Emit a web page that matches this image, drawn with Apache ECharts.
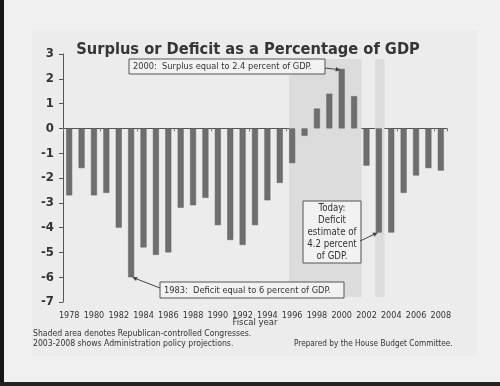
<!DOCTYPE html>
<html><head><meta charset="utf-8">
<script src="https://cdn.jsdelivr.net/npm/echarts@6/dist/echarts.min.js"></script>
<style>html,body{margin:0;padding:0;background:#f0f0f0}#c{width:500px;height:386px}</style>
</head><body><div id="c"></div>
<script>
// ---- data ----
const years = ['1978','1979','1980','1981','1982','1983','1984','1985','1986','1987','1988','1989','1990','1991','1992','1993','1994','1995','1996','1997','1998','1999','2000','2001','2002','2003','2004','2005','2006','2007','2008'];
const surplus = [-2.7,-1.6,-2.7,-2.6,-4.0,-6.0,-4.8,-5.1,-5.0,-3.2,-3.1,-2.8,-3.9,-4.5,-4.7,-3.9,-2.9,-2.2,-1.4,-0.3,0.8,1.4,2.4,1.3,-1.5,-4.2,-4.2,-2.6,-1.9,-1.6,-1.7];
const yTicks = [-7,-6,-5,-4,-3,-2,-1,0,1,2,3];
// shaded (Republican-controlled Congress) bands, in fiscal-year units
const shadeFrom = [1995.75, 2002.7];
const shadeTo = [2001.6, 2003.45];
const shadeTop = 2.8, shadeBottom = -6.8;
const titleText = 'Surplus or Deficit as a Percentage of GDP';
const xName = 'Fiscal year';
const note1 = '2000:  Surplus equal to 2.4 percent of GDP.';
const note2 = '1983:  Deficit equal to 6 percent of GDP.';
const note3 = 'Today:\nDeficit\nestimate of\n4.2 percent\nof GDP.';
const foot1 = 'Shaded area denotes Republican-controlled Congresses.';
const foot2 = '2003-2008 shows Administration policy projections.';
const foot3 = 'Prepared by the House Budget Committee.';

const FF = "'DejaVu Sans Condensed','DejaVu Sans',sans-serif";
const TXT = '#333';
const chart = echarts.init(document.getElementById('c'), null, {renderer:'canvas'});

const option = {
  backgroundColor: '#f0f0f0',
  animation: false,
  title: {
    text: titleText, left: 243, textAlign: 'center', top: 37,
    textStyle: {fontFamily: FF, fontWeight: 'bold', fontSize: 16.3, color: '#363636'}
  },
  grid: {left: 63, right: 53, top: 54, bottom: 84, containLabel: false},
  xAxis: [
    { type: 'category', data: years, position: 'bottom',
      axisLine: {show: false, onZero: false}, axisTick: {show: false},
      axisLabel: {interval: 1, fontFamily: FF, fontSize: 9, color: TXT, margin: 9} },
    { type: 'category', data: years, position: 'bottom',
      axisLine: {show: true, onZero: true, lineStyle: {color: '#555', width: 1}},
      axisTick: {show: true, length: 3, lineStyle: {color: '#777'}},
      axisLabel: {show: false} },
    { type: 'value', min: 1977.5, max: 2008.5, show: false }
  ],
  yAxis: {
    type: 'value', min: yTicks[0], max: yTicks[yTicks.length-1], interval: 1,
    axisLine: {show: true, lineStyle: {color: '#555'}},
    axisTick: {show: true, length: 4, lineStyle: {color: '#555'}},
    splitLine: {show: false},
    axisLabel: {fontFamily: FF, fontWeight: 'bold', fontSize: 13, color: TXT, margin: 9}
  },
  series: [
    { type: 'bar', xAxisIndex: 0, data: surplus, barWidth: 6,
      itemStyle: {color: '#6e6e6e', borderColor: '#606060', borderWidth: 0.5}, z: 3 },
    { type: 'line', xAxisIndex: 2, data: [], silent: true, z: 1,
      markArea: { silent: true, itemStyle: {color: '#dcdcdc'},
        data: shadeFrom.map((f, i) => [{coord: [f, shadeTop]}, {coord: [shadeTo[i], shadeBottom]}]) } }
  ]
};
chart.setOption(option);

function px(cat, v){ return chart.convertToPixel({seriesIndex: 0}, [cat, v]); }
function arrow(x1, y1, x2, y2){
  const a = Math.atan2(y2 - y1, x2 - x1), L = 5, W = 2.2;
  const bx = x2 - L*Math.cos(a), by = y2 - L*Math.sin(a);
  return [
    {type: 'line', shape: {x1, y1, x2: bx, y2: by}, style: {stroke: '#444', lineWidth: 1}, z: 10},
    {type: 'polygon', shape: {points: [[x2, y2], [bx - W*Math.sin(a), by + W*Math.cos(a)], [bx + W*Math.sin(a), by - W*Math.cos(a)]]},
     style: {fill: '#444'}, z: 10}
  ];
}
function box(x, y, w, h, text, align, fs){
  return [
    {type: 'rect', shape: {x, y, width: w, height: h}, style: {fill: '#f2f2f2', stroke: '#555', lineWidth: 1}, z: 9},
    {type: 'text', x: align === 'center' ? x + w/2 : x + 4, y: y + h/2 + 0.5, z: 11,
     style: {text, font: (fs || 9.2) + 'px ' + FF, fill: TXT, align: align || 'left', verticalAlign: 'middle', lineHeight: 11.8}}
  ];
}
const p2000 = px('2000', 2.4), p1983 = px('1983', -6.0), p2003 = px('2003', -4.2);
const g = [
  {type: 'rect', shape: {x: 32, y: 30, width: 445, height: 326}, style: {fill: '#ececec'}, z: -10},
  {type: 'rect', shape: {x: 0, y: 0, width: 4, height: 386}, style: {fill: '#151515'}, z: 20},
  {type: 'rect', shape: {x: 0, y: 382, width: 500, height: 4}, style: {fill: '#222'}, z: 20},
  ...box(129, 59, 196, 15, note1),
  ...arrow(325, 68, p2000[0] - 1, p2000[1] + 1),
  ...box(160, 282, 184, 16, note2),
  ...arrow(160, 288, p1983[0] + 1, p1983[1]),
  ...box(303, 201, 58, 62, note3, 'center', 9.6),
  ...arrow(360, 241, p2003[0] - 1, p2003[1]),
  {type: 'text', x: 255, y: 323, style: {text: xName, font: '9.5px ' + FF, fill: TXT, align: 'center', verticalAlign: 'middle'}},
  {type: 'text', x: 33, y: 334, style: {text: foot1, font: '8.6px ' + FF, fill: TXT, verticalAlign: 'middle'}},
  {type: 'text', x: 33, y: 344, style: {text: foot2, font: '8.6px ' + FF, fill: TXT, verticalAlign: 'middle'}},
  {type: 'text', x: 294, y: 344, style: {text: foot3, font: '8.2px ' + FF, fill: TXT, verticalAlign: 'middle'}}
];
chart.setOption({graphic: g});
</script></body></html>
